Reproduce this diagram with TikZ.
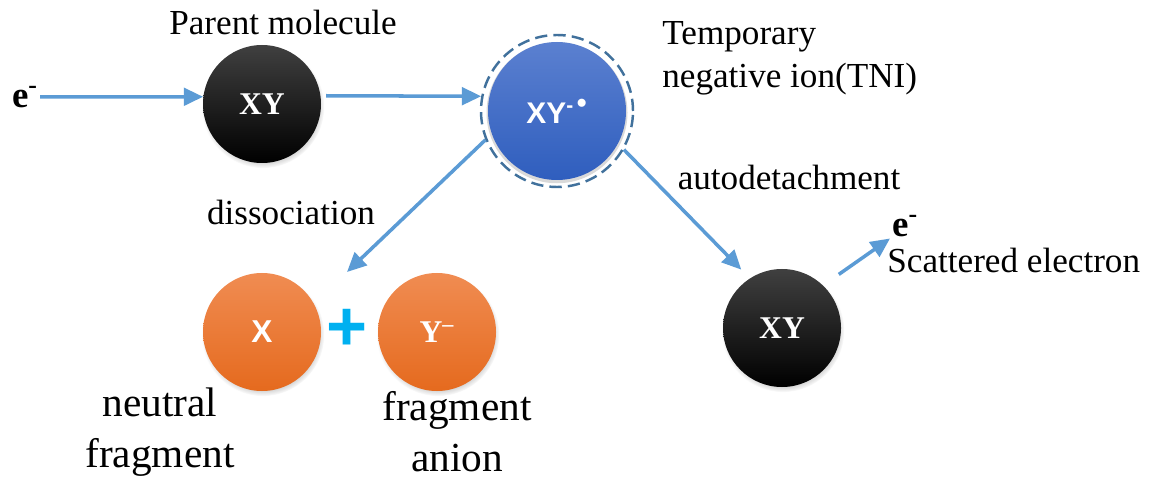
\documentclass[tikz,border=0pt]{standalone}
\usepackage{fontspec}
\setmainfont{Liberation Serif}
\setsansfont{Liberation Sans}
\usetikzlibrary{arrows.meta,shadows}
\definecolor{arrowblue}{HTML}{5B9BD5}
\definecolor{ringblue}{HTML}{41719C}
\definecolor{tnitop}{HTML}{5B80D0}
\definecolor{tnibottom}{HTML}{2F5EBE}
\definecolor{orangetop}{HTML}{F08C52}
\definecolor{orangebottom}{HTML}{E56A1E}
\definecolor{plusblue}{HTML}{00B0F0}
\begin{document}
\begin{tikzpicture}[
    >={Triangle[length=11pt,width=10pt]},
    flow/.style={->,draw=arrowblue,line width=2pt},
    note/.style={inner sep=0pt,align=left,font=\fontsize{20}{24.5}\selectfont},
    bignote/.style={inner sep=0pt,align=center,font=\fontsize{23.5}{29}\selectfont},
    electron/.style={inner sep=1pt,font=\bfseries\fontsize{21}{24}\selectfont},
    molecule/.style={circle,minimum size=2.36cm,inner sep=0pt,text=white,top color=black!75,bottom color=black,
        circular drop shadow={shadow xshift=.5pt,shadow yshift=-1.5pt,shadow scale=1.04,opacity=.5},
        font=\bfseries\fontsize{18}{20}\selectfont},
    fragment/.style={molecule,top color=orangetop,bottom color=orangebottom},
    tni/.style={circle,minimum size=3.04cm,inner sep=0pt,draw=ringblue,line width=1.4pt,dash pattern=on 7pt off 3.5pt,
        text=white,font=\sffamily\bfseries\fontsize{17}{20}\selectfont,
        path picture={\fill[black!15] ([yshift=-1pt]path picture bounding box.center) circle (1.41cm);
            \shade[top color=tnitop,bottom color=tnibottom] (path picture bounding box.center) circle (1.38cm);}},
    plus/.style={inner sep=0pt,text=plusblue,font=\sffamily\bfseries\fontsize{40}{40}\selectfont}]
    \useasboundingbox (0,0) rectangle (23.04,9.64);
    % incoming electron and parent molecule
    \node[electron] (ein) at (0.50,7.70) {e\textsuperscript{-}};
    \node[molecule] (xy1) at (5.24,7.56) {XY};
    \node[note] (parent) at (5.66,9.20) {Parent molecule};
    % temporary negative ion
    \node[tni] (ion) at (11.14,7.42) {XY\textsuperscript{-\,{\fontsize{16}{16}\selectfont\textbullet}}};
    \node[note, anchor=west] (ionlabel) at (13.24,8.48) {Temporary\\negative ion(TNI)};
    \node[note] (dissoc) at (5.82,5.40) {dissociation};
    \node[note] (autodet) at (15.78,6.10) {autodetachment};
    % fragments
    \coordinate (split) at (6.94,4.20);
    \node[fragment, font=\sffamily\bfseries\fontsize{18}{20}\selectfont] (xfrag) at (5.24,3.00) {X};
    \node[plus] (plussign) at (6.94,3.04) {+};
    \node[fragment, font=\bfseries\fontsize{18}{20}\selectfont] (yfrag) at (8.74,3.00) {Y\textsuperscript{–}};
    \node[bignote] (neutral) at (3.20,1.00) {neutral\\fragment};
    \node[bignote] (anion) at (9.14,1.00) {fragment\\anion};
    % scattered electron
    \node[molecule] (xy2) at (15.64,3.08) {XY};
    \node[electron, anchor=west] (eout) at (17.80,5.12) {e\textsuperscript{-}};
    \node[note, anchor=west] (scattered) at (17.74,4.44) {Scattered electron};
    \path (ein) edge[flow] (xy1.173);
    \path (xy1.8) edge[flow, shorten <=3pt] (ion.169);
    \path (ion.202) edge[flow] (split);
    \path (ion.-30) edge[flow, shorten >=0.24cm] (xy2.123);
    \path (xy2.46) edge[flow, shorten <=0.38cm] (eout.south west);
\end{tikzpicture}
\end{document}
